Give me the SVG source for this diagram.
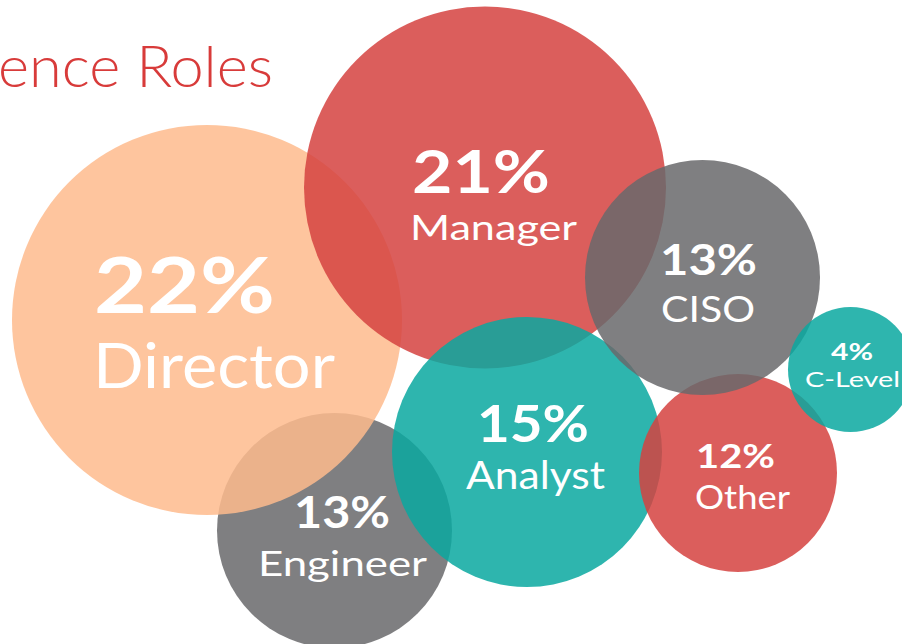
<svg xmlns="http://www.w3.org/2000/svg" width="902" height="644" viewBox="0 0 902 644">
  <style>
    .bubble { fill-opacity: 0.85; }
    .peach { fill: #FEBB8D; }
    .red { fill: #D54240; }
    .gray { fill: #68686B; }
    .teal { fill: #09A8A0; }
    text { font-family: Lato, "Open Sans", "Liberation Sans", sans-serif; fill: #FFFFFF; }
    .pct { font-weight: 700; }
    .lbl { font-weight: 400; }
    .title { fill: #D83B3A; font-weight: 300; }
  </style>
  <rect width="902" height="644" fill="#FFFFFF"/>
  <text class="title" x="-2" y="87" font-size="57" textLength="275" lengthAdjust="spacingAndGlyphs">ence Roles</text>

  <g id="engineer">
    <circle class="bubble gray" cx="334.5" cy="530.5" r="117.5"/>
  </g>
  <g id="director">
    <circle class="bubble peach" cx="207" cy="320" r="195"/>
  </g>
  <g id="manager">
    <circle class="bubble red" cx="485" cy="187.5" r="181"/>
  </g>
  <g id="analyst">
    <circle class="bubble teal" cx="527" cy="452" r="135"/>
  </g>
  <g id="other">
    <circle class="bubble red" cx="738" cy="473" r="99"/>
  </g>
  <g id="ciso">
    <circle class="bubble gray" cx="702.5" cy="277.5" r="117.5"/>
  </g>
  <g id="clevel">
    <circle class="bubble teal" cx="850.5" cy="369.5" r="62.5"/>
  </g>
  <g id="connectors"/>

  <g id="labels">
    <text class="pct" x="94" y="313" font-size="76" textLength="181" lengthAdjust="spacingAndGlyphs">22%</text>
    <text class="lbl" x="93" y="388" font-size="61" textLength="242" lengthAdjust="spacingAndGlyphs">Director</text>
    <text class="pct" x="412" y="193" font-size="60" textLength="138" lengthAdjust="spacingAndGlyphs">21%</text>
    <text class="lbl" x="410" y="240" font-size="35" textLength="167" lengthAdjust="spacingAndGlyphs">Manager</text>
    <text class="pct" x="660" y="275" font-size="42" textLength="97" lengthAdjust="spacingAndGlyphs">13%</text>
    <text class="lbl" x="661" y="322" font-size="37" textLength="94" lengthAdjust="spacingAndGlyphs">CISO</text>
    <text class="pct" x="831" y="360" font-size="23" textLength="42" lengthAdjust="spacingAndGlyphs">4%</text>
    <text class="lbl" x="805" y="387" font-size="21.5" textLength="95" lengthAdjust="spacingAndGlyphs">C-Level</text>
    <text class="pct" x="477" y="442" font-size="51" textLength="112" lengthAdjust="spacingAndGlyphs">15%</text>
    <text class="lbl" x="466" y="489" font-size="38" textLength="139" lengthAdjust="spacingAndGlyphs">Analyst</text>
    <text class="pct" x="294" y="528" font-size="43" textLength="96" lengthAdjust="spacingAndGlyphs">13%</text>
    <text class="lbl" x="258" y="576" font-size="34" textLength="169" lengthAdjust="spacingAndGlyphs">Engineer</text>
    <text class="pct" x="696" y="468" font-size="32" textLength="79" lengthAdjust="spacingAndGlyphs">12%</text>
    <text class="lbl" x="695" y="509" font-size="32" textLength="95" lengthAdjust="spacingAndGlyphs">Other</text>
  </g>
</svg>
